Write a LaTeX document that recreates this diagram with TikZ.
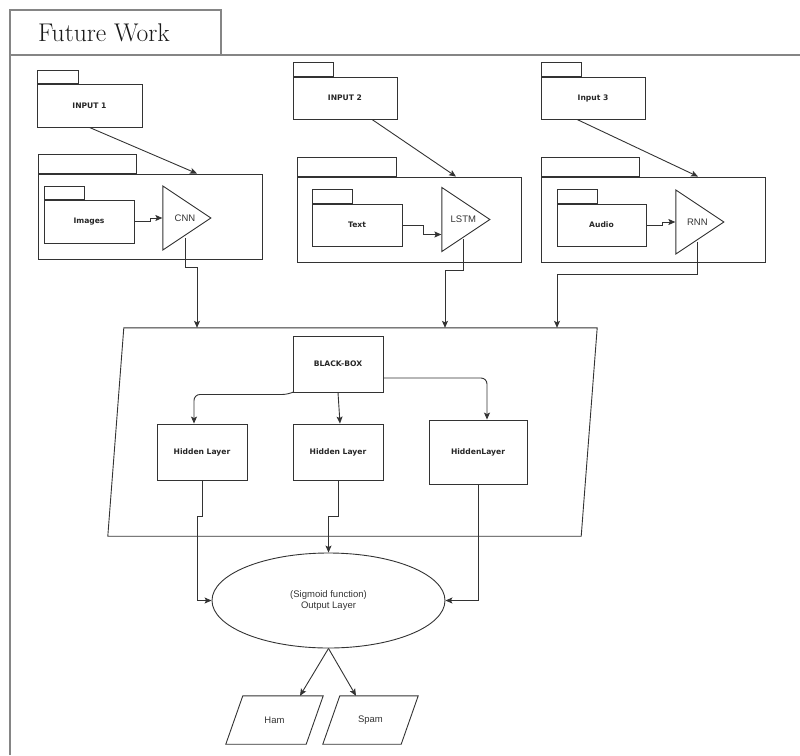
\documentclass[tikz,border=0pt]{standalone}
\usepackage{fontspec}
\newfontfamily\boxfont{DejaVu Sans}
\newfontfamily\plainfont{Liberation Sans}
\usetikzlibrary{arrows.meta, positioning, shapes.geometric, calc}
\definecolor{linegray}{HTML}{333333}
\definecolor{framegray}{HTML}{858585}
\definecolor{textgray}{HTML}{333333}

\begin{document}
\begin{tikzpicture}[
    x=1pt, y=-1pt,
    >={Stealth[length=7pt, width=6pt, inset=1.5pt]},
    frame/.style={draw=framegray, line width=1.3pt},
    title/.style={font=\fontsize{25.6}{30}\selectfont, text=black!90},
    pkg/.style={draw=linegray, line width=0.9pt, inner sep=0pt, font=\boxfont\bfseries\fontsize{7.6}{9}\selectfont, text=black!85},
    tabbox/.style={draw=linegray, line width=0.9pt, inner sep=0pt, anchor=south west, minimum width=#1},
    tri/.style={draw=linegray, line width=0.9pt, isosceles triangle, isosceles triangle stretches, shape border rotate=0, minimum width=64pt, minimum height=48pt, inner sep=0pt, anchor=apex, font=\plainfont\fontsize{9.5}{11}\selectfont, text=textgray},
    slantbox/.style={inner sep=0pt, font=\plainfont\fontsize{9.5}{11}\selectfont, text=textgray},
    outline/.style={draw=linegray, line width=0.9pt},
    conn/.style={->, draw=linegray, line width=0.9pt},
]
\useasboundingbox (0,0) rectangle (800,755);

% Outer frame with title tab
\draw[frame] (10,755) -- (10,10) -- (221,10) -- (221,55);
\draw[frame] (10,55) -- (800,55);
\node[title] (title) at (104,33) {Future Work};

% Input packages
\node[pkg, minimum width=105pt, minimum height=43pt] (input1) at (89.5,105.5) {INPUT 1};
\node[tabbox=41pt, minimum height=13pt] (input1tab) at (input1.north west) {};
\node[pkg, minimum width=104pt, minimum height=42pt] (input2) at (345,98) {INPUT 2};
\node[tabbox=40pt, minimum height=14pt] (input2tab) at (input2.north west) {};
\node[pkg, minimum width=104pt, minimum height=42pt] (input3) at (593,98) {Input 3};
\node[tabbox=40pt, minimum height=14pt] (input3tab) at (input3.north west) {};

% Model containers
\node[pkg, minimum width=224pt, minimum height=85pt] (cont1) at (150,216.5) {};
\node[tabbox=98pt, minimum height=19pt] (cont1tab) at (cont1.north west) {};
\node[pkg, minimum width=224pt, minimum height=85pt] (cont2) at (409,219.5) {};
\node[tabbox=99pt, minimum height=19pt] (cont2tab) at (cont2.north west) {};
\node[pkg, minimum width=224pt, minimum height=85pt] (cont3) at (653,219.5) {};
\node[tabbox=98pt, minimum height=19pt] (cont3tab) at (cont3.north west) {};

% Data packages
\node[pkg, minimum width=90pt, minimum height=43pt] (images) at (89,221.5) {Images};
\node[tabbox=40pt, minimum height=13pt] (imagestab) at (images.north west) {};
\node[pkg, minimum width=90pt, minimum height=42pt] (text) at (357,225) {Text};
\node[tabbox=40pt, minimum height=14pt] (texttab) at (text.north west) {};
\node[pkg, minimum width=89pt, minimum height=42pt] (audio) at (601.5,225) {Audio};
\node[tabbox=40pt, minimum height=14pt] (audiotab) at (audio.north west) {};

% Networks
\node[tri, xshift=0pt] (cnn) at (212,218) {\hspace{6pt}CNN};
\node[tri] (lstm) at (491,219.5) {\hspace{4pt}LSTM};
\node[tri] (rnn) at (725,222) {\hspace{5pt}RNN};

% Black box region
\node[slantbox, minimum width=473pt, minimum height=208pt] (region) at (352.5,432) {};
\draw[outline] ([xshift=-8pt]region.south west) -- ([xshift=8pt]region.north west)
  -- ([xshift=8pt]region.north east) -- ([xshift=-8pt]region.south east) -- cycle;
\node[pkg, minimum width=90pt, minimum height=56pt] (bb) at (338,364) {BLACK-BOX};
\node[pkg, minimum width=90pt, minimum height=56pt] (hl1) at (202,452) {Hidden Layer};
\node[pkg, minimum width=90pt, minimum height=56pt] (hl2) at (338,452) {Hidden Layer};
\node[pkg, minimum width=98pt, minimum height=64pt] (hl3) at (478,452) {HiddenLayer};

% Output
\node[draw=linegray, line width=0.9pt, ellipse, minimum width=233pt, minimum height=95pt, align=center, font=\plainfont\fontsize{9.5}{11.5}\selectfont, text=textgray] (out) at (328.5,600.5) {(Sigmoid function)\\Output Layer};
\node[slantbox, minimum width=80pt, minimum height=48pt] (ham) at (274.5,720) {Ham};
\draw[outline] ([xshift=-8.5pt]ham.south west) -- ([xshift=8.5pt]ham.north west)
  -- ([xshift=8.5pt]ham.north east) -- ([xshift=-8.5pt]ham.south east) -- cycle;
\node[slantbox, minimum width=78pt, minimum height=48pt] (spam) at (370.5,720) {Spam};
\draw[outline] ([xshift=-8.5pt]spam.south west) -- ([xshift=8.5pt]spam.north west)
  -- ([xshift=8.5pt]spam.north east) -- ([xshift=-8.5pt]spam.south east) -- cycle;

% Inputs to containers
\draw[conn] (input1.south) -- ([xshift=47pt]cont1.north);
\draw[conn] ([xshift=27pt]input2.south) -- ([xshift=47pt]cont2.north);
\draw[conn] ([xshift=-16pt]input3.south) -- ([xshift=45pt]cont3.north);

% Data to networks
\draw[conn] (images.east) -- ++(16,0) |- (cnn.west);
\draw[conn] (text.east) -- ++(21,0) |- ([yshift=-15pt]lstm.west);
\draw[conn] (audio.east) -- ++(16,0) |- (rnn.west);

% Networks to black box
\draw[conn] ([xshift=3pt]cnn.south) -- ++(0,30) -| ([xshift=-155.5pt]region.north);
\draw[conn] ([xshift=2pt]lstm.south) -- ++(0,31) -| ([xshift=92.5pt]region.north);
\draw[conn] ([xshift=3pt]rnn.south) -- ++(0,33) -| ([xshift=204.5pt]region.north);

% Black box to hidden layers
\draw[conn, rounded corners=6pt] (bb.south west) -- ++(-4,2) -| ([xshift=-8pt]hl1.north);
\draw[conn] (bb.south) -- ([xshift=2pt]hl2.north);
\draw[conn, rounded corners=6pt] ([yshift=-14pt]bb.east) -| ([xshift=9pt]hl3.north);

% Hidden layers to output
\draw[conn] (hl1.south) -- ++(0,36) -- ++(-5,0) |- (out.west);
\draw[conn] (hl2.south) -- ++(0,36) -| (out.north);
\draw[conn] (hl3.south) |- (out.east);

% Output to classes
\draw[conn] (out.south) -- ([xshift=25.5pt]ham.north);
\draw[conn] (out.south) -- ([xshift=-14.5pt]spam.north);

\end{tikzpicture}
\end{document}
